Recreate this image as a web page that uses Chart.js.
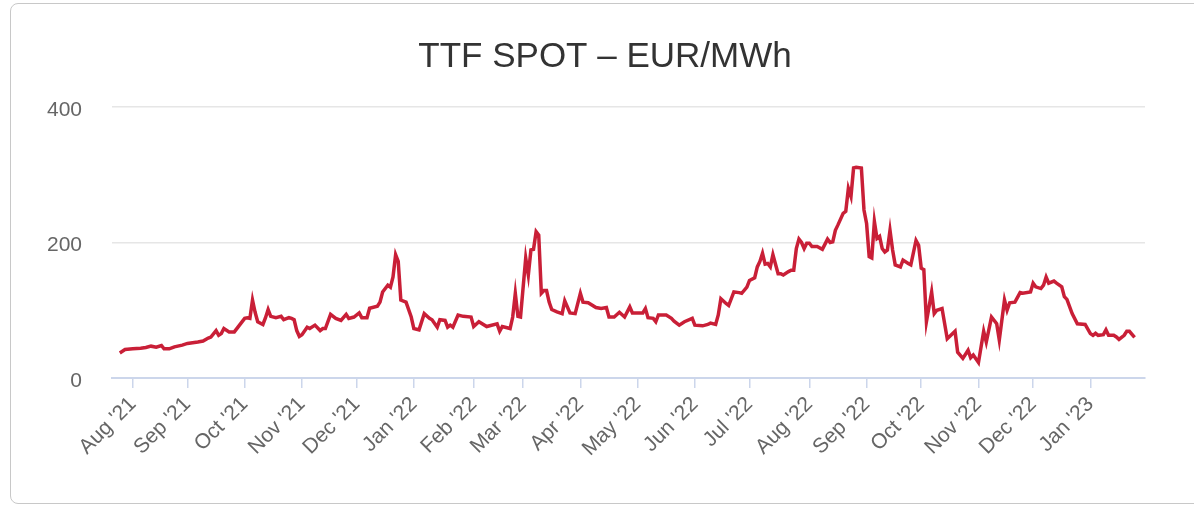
<!DOCTYPE html>
<html>
<head>
<meta charset="utf-8">
<title>TTF SPOT</title>
<script src="https://cdn.jsdelivr.net/npm/chart.js@4"></script>
<style>
    html, body { margin: 0; padding: 0; background: #fff; overflow: hidden; }
    .frame {
        position: absolute;
        left: 10px;
        top: 3px;
        width: 1210px;
        height: 499px;
        border: 1px solid #c8c8c8;
        border-radius: 8px;
    }
    #priceChart { position: absolute; left: 0; top: 0; }
</style>
</head>
<body>
<div class="frame"></div>
<canvas id="priceChart" width="1210" height="506"></canvas>
<script>
// trading-day index (0 = first quote, late Jul '21)
const tradeDay = [0, 2, 5, 8, 10, 12, 14, 16, 17, 19, 21, 24, 26, 30, 32, 34, 35, 37, 38, 39, 40, 42, 44, 46, 48, 49, 50, 51, 52, 53, 55, 56, 57, 58, 60, 62, 63, 65, 66, 67, 68, 69, 70, 72, 73, 75, 77, 78, 79, 81, 83, 85, 87, 88, 90, 92, 93, 95, 96, 99, 100, 101, 103, 104, 105, 106, 107, 108, 110, 112, 113, 115, 117, 119, 120, 122, 123, 125, 126, 127, 128, 130, 132, 135, 136, 138, 141, 145, 146, 147, 150, 151, 152, 153, 154, 156, 157, 158, 159, 160, 161, 162, 163, 164, 165, 166, 168, 170, 171, 173, 175, 177, 178, 180, 183, 185, 187, 188, 190, 192, 194, 196, 197, 201, 202, 203, 205, 206, 207, 210, 212, 213, 215, 217, 220, 221, 224, 226, 227, 229, 230, 231, 233, 234, 236, 238, 239, 241, 242, 244, 245, 246, 247, 248, 249, 250, 251, 253, 254, 255, 257, 258, 259, 260, 261, 262, 263, 264, 265, 266, 268, 270, 272, 273, 274, 275, 276, 278, 279, 280, 281, 282, 283, 285, 286, 287, 288, 289, 290, 291, 292, 293, 294, 295, 296, 297, 298, 300, 301, 303, 304, 306, 307, 308, 309, 310, 312, 313, 314, 316, 318, 321, 322, 324, 326, 327, 328, 330, 332, 333, 335, 337, 338, 340, 341, 342, 344, 346, 347, 350, 351, 352, 354, 355, 356, 357, 359, 360, 362, 363, 364, 366, 368, 371, 373, 374, 375, 376, 378, 379, 380, 382, 383, 384, 386, 387, 388, 390];

// EUR/MWh
const price = [37, 42, 43, 44, 45, 47, 45.5, 48, 43, 43, 46, 48.5, 51, 53, 54.5, 59, 60.5, 70, 63, 65.5, 73, 68, 68, 78, 88, 89, 88, 115, 97, 83, 79, 89, 101, 91, 89, 91, 86, 89, 88, 86, 70, 61.5, 64, 75, 73, 78, 70, 73, 73, 94, 88, 85, 94, 88, 90, 96, 89, 89, 103, 106, 112, 127, 137, 134, 149, 182, 172, 115, 112, 90, 73, 71, 95, 88, 86, 75, 86, 85, 75, 78, 75, 93, 91, 90, 76, 83, 76, 80, 69, 76, 73, 90, 125, 91, 90, 177, 152, 189, 190, 216, 211, 125, 129, 129, 112, 101, 97.5, 95, 114, 96, 95, 125, 112, 111, 104, 102.5, 104, 90, 90, 97, 90, 105, 96, 96, 102.5, 89, 88, 83, 93, 93, 88, 84, 78, 83, 88, 78, 77, 79, 81, 79, 93, 117, 110, 107, 127, 126, 125, 134, 144, 148, 164, 172, 184, 168, 169, 164, 182, 154, 154, 152, 157, 159, 159, 191, 205, 200, 191, 199, 199, 194, 194, 190, 205, 200, 201, 218, 226, 243, 246, 280, 268, 310, 311, 310, 248, 228, 179, 177, 231, 206, 209, 191, 186, 189, 218, 189, 167, 164, 174, 169, 167, 203, 196, 162, 160, 83, 127, 95, 100, 102.5, 58, 69, 38, 29, 41, 30, 34, 23, 69, 53, 90, 80, 56, 115, 100, 111, 112, 126, 125, 127, 140, 134.5, 132, 137, 149, 140, 143, 140, 134.5, 120, 116, 95, 80, 79, 65.5, 63, 66, 63, 64, 71, 63, 63, 60.5, 57, 63, 69, 69, 60];

// first trading day of each month
const monthTicks = [5, 26, 48, 70, 91, 113, 136, 155, 177, 199, 221, 242, 265, 287, 308, 330, 351, 373];
const monthLabels = ["Aug '21", "Sep '21", "Oct '21", "Nov '21", "Dec '21", "Jan '22", "Feb '22", "Mar '22", "Apr '22", "May '22", "Jun '22", "Jul '22", "Aug '22", "Sep '22", "Oct '22", "Nov '22", "Dec '22", "Jan '23"];

const yTicks = [0, 200, 400];

const points = tradeDay.map((d, i) => ({ x: d, y: price[i] }));

const ctx = document.getElementById('priceChart').getContext('2d');

new Chart(ctx, {
    type: 'line',
    data: {
        datasets: [{
            label: 'TTF Spot',
            data: points,
            borderColor: '#c91f37',
            borderWidth: 3.5,
            pointRadius: 0,
            fill: false,
            tension: 0
        }]
    },
    options: {
        responsive: false,
        animation: false,
        devicePixelRatio: 1,
        layout: {
            padding: 0
        },
        plugins: {
            legend: { display: false },
            tooltip: { enabled: false },
            title: {
                display: true,
                text: 'TTF SPOT – EUR/MWh',
                color: '#333333',
                font: { family: "'Liberation Sans', Arial, sans-serif", size: 35, weight: 'normal', lineHeight: 1.2 },
                padding: { top: 36, bottom: 29 }
            }
        },
        scales: {
            x: {
                type: 'linear',
                min: -3,
                max: 394,
                afterFit: (scale) => { scale.height = 128; },
                afterBuildTicks: (scale) => {
                    scale.ticks = monthTicks.map(v => ({ value: v }));
                },
                grid: {
                    drawOnChartArea: false,
                    drawTicks: true,
                    tickLength: 10,
                    tickColor: '#ccd6eb',
                    lineWidth: 1.5
                },
                border: { color: '#ccd6eb', width: 2 },
                ticks: {
                    autoSkip: false,
                    minRotation: 45,
                    maxRotation: 45,
                    padding: 4,
                    color: '#666666',
                    font: { family: "'Liberation Sans', Arial, sans-serif", size: 21 },
                    callback: (value) => {
                        const i = monthTicks.indexOf(value);
                        return i >= 0 ? monthLabels[i] : '';
                    }
                }
            },
            y: {
                min: 0,
                max: 400,
                afterFit: (scale) => { scale.width = 112; },
                afterBuildTicks: (scale) => {
                    scale.ticks = yTicks.map(v => ({ value: v }));
                },
                grid: {
                    color: '#e6e6e6',
                    lineWidth: 1.5,
                    drawTicks: false
                },
                border: { display: false },
                ticks: {
                    padding: 30,
                    labelOffset: 3,
                    color: '#666666',
                    font: { family: "'Liberation Sans', Arial, sans-serif", size: 21 }
                }
            },
            // empty right-hand margin so the title centres on the whole frame
            spacer: {
                type: 'linear',
                position: 'right',
                afterFit: (scale) => { scale.width = 65; },
                grid: { display: false },
                border: { display: false },
                ticks: { display: false }
            }
        }
    }
});
</script>
</body>
</html>
